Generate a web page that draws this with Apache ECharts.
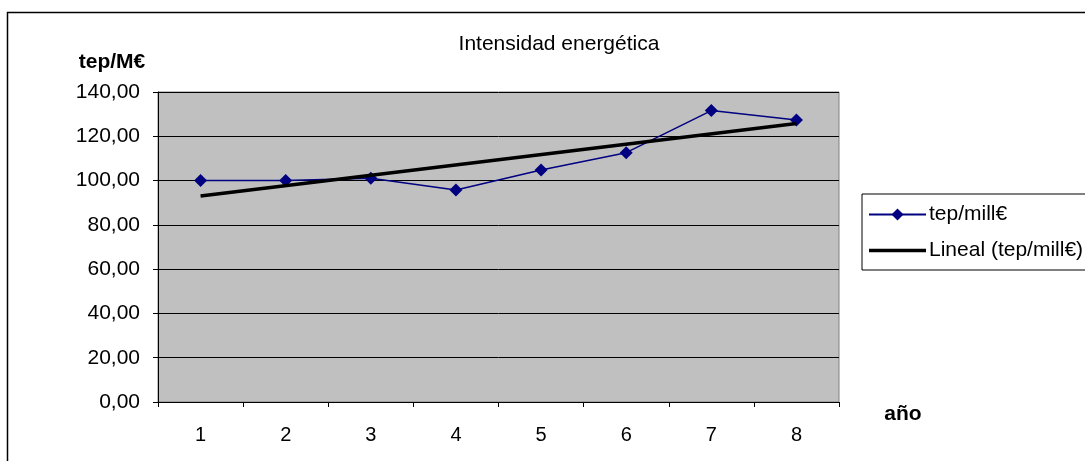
<!DOCTYPE html>
<html>
<head>
<meta charset="utf-8">
<script src="https://cdn.jsdelivr.net/npm/echarts@6/dist/echarts.min.js"></script>
<style>
html,body{margin:0;padding:0;background:#fff;}
#chart{width:1085px;height:461px;}
</style>
</head>
<body>
<div id="chart"></div>
<script>
// Data
var years = ['1', '2', '3', '4', '5', '6', '7', '8'];
var intensity = [100.0, 100.0, 101.0, 95.7, 104.8, 112.6, 131.6, 127.4];
var trendStartEnd = [93.0, 125.8]; // linear trendline values at year 1 and year 8
var yTicks = { min: 0, max: 140, interval: 20 };

var FONT = '"Liberation Sans", Arial, sans-serif';
var chart = echarts.init(document.getElementById('chart'));

var option = {
  backgroundColor: '#ffffff',
  animation: false,
  textStyle: { fontFamily: FONT, color: '#000' },
  title: {
    text: 'Intensidad energética',
    left: 554,
    top: 29,
    textAlign: 'center',
    textStyle: { fontFamily: FONT, fontSize: 21, fontWeight: 'normal', color: '#000' }
  },
  grid: {
    left: 158, top: 92, right: 246, bottom: 59,
    show: true, backgroundColor: '#C0C0C0', borderColor: '#808080', borderWidth: 1
  },
  legend: {
    orient: 'vertical',
    left: 862, top: 194,
    padding: [10, 20, 9, 6],
    itemGap: 15,
    itemWidth: 57, itemHeight: 15,
    backgroundColor: '#fff',
    borderColor: '#000', borderWidth: 1, borderRadius: 0,
    textStyle: { fontFamily: FONT, fontSize: 21, color: '#000', padding: [0, 0, 0, -2] },
    data: [
      { name: 'tep/mill€' },
      { name: 'Lineal (tep/mill€)', icon: 'path://M0,0 L57,0 L57,3.5 L0,3.5 Z', itemStyle: { color: '#000' } }
    ]
  },
  xAxis: {
    type: 'category',
    data: years,
    boundaryGap: true,
    axisLine: { show: true, lineStyle: { color: '#000', width: 1 } },
    axisTick: { show: true, length: 5, lineStyle: { color: '#000' } },
    axisLabel: { fontFamily: FONT, fontSize: 20, color: '#000', margin: 23 },
    splitLine: { show: false }
  },
  yAxis: {
    type: 'value',
    min: yTicks.min, max: yTicks.max, interval: yTicks.interval,
    axisLine: { show: true, lineStyle: { color: '#000', width: 1 } },
    axisTick: { show: true, length: 5, lineStyle: { color: '#000' } },
    axisLabel: {
      fontFamily: FONT, fontSize: 21, color: '#000', margin: 18,
      formatter: function (v) { return v.toFixed(2).replace('.', ','); }
    },
    splitLine: { show: true, lineStyle: { color: '#000', width: 1 } }
  },
  graphic: [
    { type: 'rect', shape: { x: 7.5, y: 12.5, width: 1100, height: 470 }, style: { fill: 'none', stroke: '#000', lineWidth: 1.5 }, z: 100 },
    { type: 'text', x: 112, y: 62, style: { text: 'tep/M€', font: 'bold 21px ' + FONT, fill: '#000', textAlign: 'center', textVerticalAlign: 'middle' } },
    { type: 'text', x: 903, y: 414, style: { text: 'año', font: 'bold 21px ' + FONT, fill: '#000', textAlign: 'center', textVerticalAlign: 'middle' } }
  ],
  series: [
    {
      name: 'tep/mill€',
      type: 'line',
      data: intensity,
      symbol: 'diamond',
      symbolSize: 13,
      showAllSymbol: true,
      itemStyle: { color: '#000080' },
      lineStyle: { color: '#000080', width: 1.5 },
      z: 3
    },
    {
      name: 'Lineal (tep/mill€)',
      type: 'line',
      data: [[0, trendStartEnd[0]], [years.length - 1, trendStartEnd[1]]],
      symbol: 'none',
      itemStyle: { color: '#000' },
      lineStyle: { color: '#000', width: 3.5 },
      z: 4
    }
  ]
};
chart.setOption(option);
</script>
</body>
</html>
